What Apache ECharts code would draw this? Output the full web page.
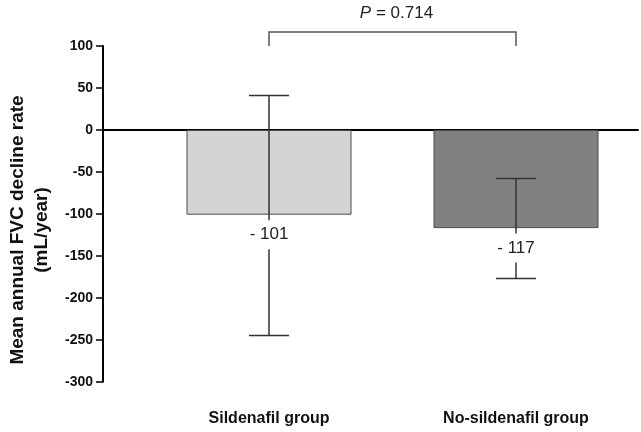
<!DOCTYPE html>
<html>
<head>
<meta charset="utf-8">
<script src="https://cdn.jsdelivr.net/npm/echarts@6/dist/echarts.min.js"></script>
<style>html,body{margin:0;padding:0;background:#fff}#c{width:641px;height:432px}</style>
</head>
<body>
<div id="c"></div>
<script>
const categories = ['Sildenafil group', 'No-sildenafil group'];
const means = [-101, -117];
const errLow = [-245, -177];
const errHigh = [41, -58];
const valueLabels = ['- 101', '- 117'];
const barColors = ['#d4d4d4', '#808080'];
const yMin = -300, yMax = 100, yInterval = 50;
const pValue = '0.714';
const yTitle = ['Mean annual FVC decline rate', '(mL/year)'];

const FONT = '"Liberation Sans", Arial, sans-serif';
const chart = echarts.init(document.getElementById('c'), null, {renderer: 'canvas'});

const option = {
  backgroundColor: '#fff',
  animation: false,
  grid: [
    {left: 103, right: 3, top: 46, bottom: 50.3},
    {left: 145.5, right: 1.5, top: 46, bottom: 50.3}
  ],
  xAxis: [
    {type: 'value', gridIndex: 0, min: 0, max: 1,
     axisLine: {show: true, onZero: true, lineStyle: {color: '#000', width: 2}},
     axisTick: {show: false}, axisLabel: {show: false}, splitLine: {show: false}},
    {type: 'category', gridIndex: 1, data: categories,
     axisLine: {show: false, onZero: false}, axisTick: {show: false},
     axisLabel: {margin: 29, color: '#111', fontWeight: 'bold', fontSize: 16, fontFamily: FONT},
     splitLine: {show: false}}
  ],
  yAxis: [
    {type: 'value', gridIndex: 0, min: yMin, max: yMax, interval: yInterval,
     axisLine: {show: true, lineStyle: {color: '#000', width: 2}},
     axisTick: {show: true, length: 7, lineStyle: {color: '#000', width: 1.5}},
     axisLabel: {margin: 10, color: '#111', fontWeight: 'bold', fontSize: 14, fontFamily: FONT},
     splitLine: {show: false}},
    {type: 'value', gridIndex: 1, min: yMin, max: yMax, interval: yInterval, show: false,
     splitLine: {show: false}}
  ],
  graphic: [
    {type: 'text', x: 30, y: 230, rotation: Math.PI / 2,
     style: {text: yTitle.join('\n'), fill: '#111', font: 'bold 19px ' + FONT,
             align: 'center', verticalAlign: 'middle', lineHeight: 24}}
  ],
  series: [
    {type: 'bar', xAxisIndex: 1, yAxisIndex: 1, barWidth: 165,
     data: means.map((v, i) => ({value: v, itemStyle: {color: barColors[i], borderColor: '#4a4a4a', borderWidth: 1}}))},
    {type: 'custom', xAxisIndex: 1, yAxisIndex: 1, z: 5,
     data: means.map((m, i) => [i, errLow[i], errHigh[i], m]),
     renderItem: function (params, api) {
       const i = api.value(0);
       const hi = api.coord([i, api.value(2)]);
       const lo = api.coord([i, api.value(1)]);
       const bb = api.coord([i, api.value(3)]);
       const cx = hi[0];
       const cap = 20;
       const st = {stroke: '#333', lineWidth: 1.5};
       return {type: 'group', children: [
         {type: 'line', shape: {x1: cx, y1: hi[1], x2: cx, y2: lo[1]}, style: st},
         {type: 'line', shape: {x1: cx - cap, y1: hi[1], x2: cx + cap, y2: hi[1]}, style: st},
         {type: 'line', shape: {x1: cx - cap, y1: lo[1], x2: cx + cap, y2: lo[1]}, style: st},
         {type: 'text', x: cx, y: bb[1] + 20,
          style: {text: valueLabels[params.dataIndex], fill: '#222', font: '17px ' + FONT,
                  align: 'center', verticalAlign: 'middle', backgroundColor: '#fff', padding: [6, 3]}}
       ]};
     }},
    {type: 'custom', xAxisIndex: 1, yAxisIndex: 1, z: 5,
     data: [[0, 1]],
     renderItem: function (params, api) {
       const a = api.coord([api.value(0), yMax]);
       const b = api.coord([api.value(1), yMax]);
       const top = a[1] - 14;
       return {type: 'group', children: [
         {type: 'polyline', shape: {points: [[a[0], a[1]], [a[0], top], [b[0], top], [b[0], b[1]]]},
          style: {stroke: '#555', lineWidth: 1.5, fill: 'none'}},
         {type: 'text', x: (a[0] + b[0]) / 2 + 4, y: a[1] - 33,
          style: {text: '{i|P} = ' + pValue, fill: '#222', font: '17px ' + FONT,
                  align: 'center', verticalAlign: 'middle',
                  rich: {i: {fontStyle: 'italic', fontSize: 17, fontFamily: FONT, fill: '#222'}}}}
       ]};
     }}
  ]
};
chart.setOption(option);
</script>
</body>
</html>
